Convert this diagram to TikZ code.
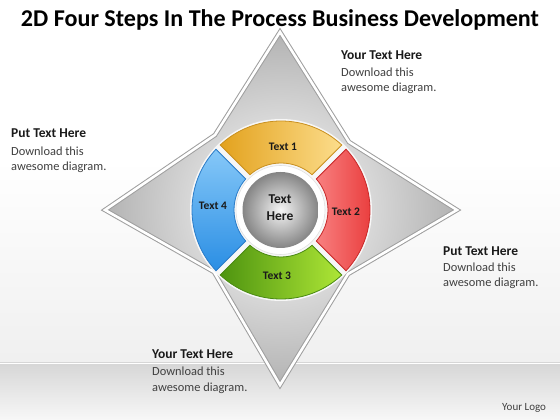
\documentclass[tikz,border=0pt]{standalone}
\usepackage{fontspec}
\setmainfont{Carlito}
\definecolor{goldD}{HTML}{E3A21E}
\definecolor{goldL}{HTML}{FCDD8C}
\definecolor{goldE}{HTML}{C99020}
\definecolor{redD}{HTML}{E83636}
\definecolor{redL}{HTML}{F88080}
\definecolor{redE}{HTML}{C82828}
\definecolor{grnD}{HTML}{4E9410}
\definecolor{grnL}{HTML}{AEE636}
\definecolor{grnE}{HTML}{4A8A12}
\definecolor{bluD}{HTML}{2A8EE4}
\definecolor{bluL}{HTML}{86C8F8}
\definecolor{bluE}{HTML}{2A7CC8}
\definecolor{txt}{HTML}{1A1A1A}
\definecolor{subt}{HTML}{404040}
\newcommand\ringseg[2]{%
  ({#1+asin(3/89)}:89) arc[start angle={#1+asin(3/89)}, end angle={#2-asin(3/89)}, radius=89]
  -- ({#2-asin(3/47)}:47) arc[start angle={#2-asin(3/47)}, end angle={#1+asin(3/47)}, radius=47] -- cycle}
\begin{document}
\begin{tikzpicture}[x=1pt,y=1pt,
  head/.style={font=\fontsize{13.5}{15}\selectfont\bfseries, text=txt, inner sep=0pt, anchor=base west},
  body/.style={font=\fontsize{12.4}{14}\selectfont, text=subt, inner sep=0pt, anchor=base west},
  seglabel/.style={font=\fontsize{11.5}{13}\selectfont\bfseries, text=txt, inner sep=0pt},
  segedge/.style={line width=0.8pt}]
\useasboundingbox (0,0) rectangle (560,420);
% background
\fill[white] (0,0) rectangle (560,420);
\shade[top color=white, bottom color=black!6] (0,57) rectangle (560,260);
\shade[top color=black!16, bottom color=black!3] (0,0) rectangle (560,57);
\draw[white, line width=0.8pt] (0,57) -- (560,57);
% star
\coordinate (sT) at (280,388);
\coordinate (sUR) at (349,278);
\coordinate (sR) at (457,210);
\coordinate (sLR) at (348,146);
\coordinate (sB) at (280,35);
\coordinate (sLL) at (214,148);
\coordinate (sL) at (105,210);
\coordinate (sUL) at (215,285);
\fill[black!10] ([shift={(1.5,-1.5)}]sT) -- ([shift={(1.5,-1.5)}]sUR) -- ([shift={(1.5,-1.5)}]sR) -- ([shift={(1.5,-1.5)}]sLR) -- ([shift={(1.5,-1.5)}]sB) -- ([shift={(1.5,-1.5)}]sLL) -- ([shift={(1.5,-1.5)}]sL) -- ([shift={(1.5,-1.5)}]sUL) -- cycle;
\shade[inner color=white, outer color=black!30] (sT) -- (sUR) -- (sR) -- (sLR) -- (sB) -- (sLL) -- (sL) -- (sUL) -- cycle;
\draw[black!38, line width=4.6pt, line join=miter] (sT) -- (sUR) -- (sR) -- (sLR) -- (sB) -- (sLL) -- (sL) -- (sUL) -- cycle;
\draw[white, line width=2.6pt, line join=miter] (sT) -- (sUR) -- (sR) -- (sLR) -- (sB) -- (sLL) -- (sL) -- (sUL) -- cycle;
% ring
\begin{scope}[shift={(281,210)}]
  \fill[black!3] (0,0) circle[radius=91];
  \shade[left color=goldD, right color=goldL] \ringseg{45}{135};
  \draw[goldE, segedge] \ringseg{45}{135};
  \shade[left color=redL, right color=redD] \ringseg{-45}{45};
  \draw[redE, segedge] \ringseg{-45}{45};
  \shade[left color=grnD, right color=grnL] \ringseg{225}{315};
  \draw[grnE, segedge] \ringseg{225}{315};
  \shade[top color=bluL, bottom color=bluD] \ringseg{135}{225};
  \draw[bluE, segedge] \ringseg{135}{225};
  \fill[white] (-0.5,0) circle[radius=44.5];
  \draw[black!12, line width=0.6pt] (-0.5,0) circle[radius=44.5];
  \shade[inner color=black!4, outer color=black!48] (-0.5,0) circle[radius=38];
\end{scope}
% labels on ring
\node[seglabel] (l1) at (283,273) {Text 1};
\node[seglabel] (l2) at (346,208) {Text 2};
\node[seglabel] (l3) at (277,144) {Text 3};
\node[seglabel] (l4) at (213,214) {Text 4};
\node[font=\fontsize{13.5}{17}\selectfont\bfseries, text=txt, align=center, inner sep=0pt] (ctr) at (280,212) {Text\\Here};
% title
\node[font=\fontsize{24.1}{26}\selectfont\bfseries, text=black, inner sep=0pt, anchor=base] (title) at (280,393.5) {2D Four Steps In The Process Business Development};
% text blocks
\node[head] (trh) at (341,360) {Your Text Here};
\node[body] (trb) at (341,343.5) {Download this};
\node[body] (trc) at (341,328.5) {awesome diagram.};
\node[head] (lh) at (11,282) {Put Text Here};
\node[body] (lb) at (11,264.5) {Download this};
\node[body] (lc) at (11,249) {awesome diagram.};
\node[head] (rh) at (443,164.5) {Put Text Here};
\node[body] (rb) at (443,148.5) {Download this};
\node[body] (rc) at (443,133.5) {awesome diagram.};
\node[head] (bh) at (152,61) {Your Text Here};
\node[body] (bb) at (152,44) {Download this};
\node[body] (bc) at (152,28.5) {awesome diagram.};
\node[font=\fontsize{11}{12}\selectfont, text=subt, inner sep=0pt, anchor=base west] (logo) at (502,9.5) {Your Logo};
\end{tikzpicture}
\end{document}
